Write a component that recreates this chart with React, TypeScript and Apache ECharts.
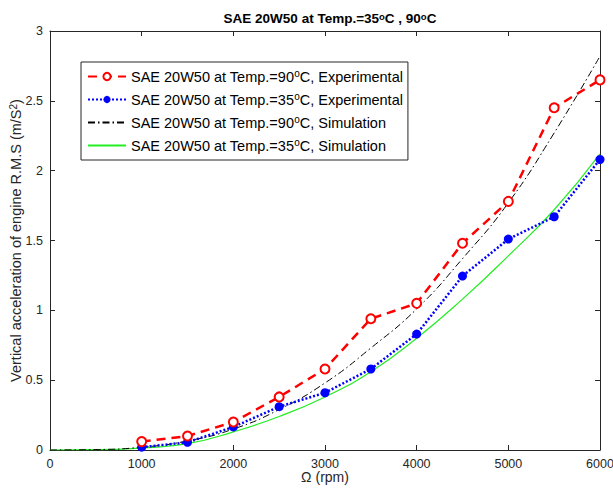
import React, { useEffect, useRef } from "react";
import * as echarts from "echarts";

const expRpm = [1000, 1500, 2000, 2500, 3000, 3500, 4000, 4500, 5000, 5500, 6000];
const exp90 = [0.06, 0.1, 0.2, 0.38, 0.58, 0.94, 1.05, 1.48, 1.78, 2.45, 2.65];
const exp35 = [0.02, 0.055, 0.165, 0.31, 0.41, 0.58, 0.83, 1.245, 1.51, 1.67, 2.08];
const simRpm = [0, 500, 1000, 1500, 2000, 2500, 3000, 3500, 4000, 4500, 5000, 5500, 6000];
const sim90 = [0, 0.003, 0.02, 0.065, 0.15, 0.29, 0.48, 0.73, 1.01, 1.37, 1.77, 2.27, 2.82];
const sim35 = [0, 0.002, 0.015, 0.045, 0.13, 0.24, 0.38, 0.56, 0.8, 1.08, 1.39, 1.72, 2.12];

const names = [
  "SAE 20W50 at Temp.=90°C, Experimental",
  "SAE 20W50 at Temp.=35°C, Experimental",
  "SAE 20W50 at Temp.=90°C, Simulation",
  "SAE 20W50 at Temp.=35°C, Simulation",
];

const FONT = "'Liberation Sans', Arial, sans-serif";
const TXT = "#262626";

const zip = (xs: number[], ys: number[]) => xs.map((x, i) => [x, ys[i]]);
const sup = (s: string) => s.replace(/°/g, "{sup|o}");

export default function App() {
  const ref = useRef<HTMLDivElement>(null);
  useEffect(() => {
    if (!ref.current) return;
    const chart = echarts.init(ref.current, undefined, { renderer: "svg" });
    const axisCommon = {
      axisLine: { show: true, onZero: false, lineStyle: { color: TXT, width: 1 } },
      axisTick: { show: true, inside: true, length: 5, lineStyle: { color: TXT } },
      splitLine: { show: false },
    };
    chart.setOption({
      animation: false,
      backgroundColor: "#fff",
      title: {
        text: sup("SAE 20W50 at Temp.=35°C , 90°C"),
        left: 325,
        textAlign: "center",
        top: 6,
        textStyle: {
          fontFamily: FONT,
          fontSize: 13.5,
          fontWeight: "bold",
          color: "#000",
          rich: {
            sup: { fontSize: 9.5, fontWeight: "bold", verticalAlign: "top", fontFamily: FONT, color: "#000" },
          },
        },
      },
      grid: { left: 50, right: 13, top: 31, bottom: 44, containLabel: false, outerBoundsMode: "none" },
      legend: {
        orient: "vertical",
        left: 81,
        top: 62,
        padding: [6, 5, 6, 6],
        itemWidth: 38,
        itemHeight: 9,
        itemGap: 6,
        itemTextGap: 8,
        backgroundColor: "#fff",
        borderColor: TXT,
        borderWidth: 1,
        borderRadius: 0,
        data: [
          { name: names[0] },
          { name: names[1] },
          { name: names[2], itemStyle: { opacity: 0 } },
          { name: names[3], itemStyle: { opacity: 0 } },
        ],
        formatter: (n: string) => sup(n),
        textStyle: {
          fontFamily: FONT,
          fontSize: 14.5,
          lineHeight: 17,
          color: "#000",
          rich: {
            sup: { fontSize: 10, verticalAlign: "top", fontFamily: FONT, color: "#000" },
          },
        },
      },
      xAxis: [
        {
          type: "value",
          min: 0,
          max: 6000,
          interval: 1000,
          position: "bottom",
          ...axisCommon,
          axisLabel: { fontFamily: FONT, fontSize: 12.5, color: TXT, margin: 7, formatter: (v: number) => String(v) },
          name: "Ω (rpm)",
          nameLocation: "middle",
          nameGap: 20,
          nameMoveOverlap: false,
          nameTextStyle: { fontFamily: FONT, fontSize: 14, color: TXT },
        },
        {
          type: "value",
          min: 0,
          max: 6000,
          interval: 1000,
          position: "top",
          ...axisCommon,
          axisLabel: { show: false },
        },
      ],
      yAxis: [
        {
          type: "value",
          min: 0,
          max: 3,
          interval: 0.5,
          position: "left",
          ...axisCommon,
          axisLabel: { fontFamily: FONT, fontSize: 12.5, color: TXT, margin: 7, formatter: (v: number) => String(v) },
          name: "Vertical acceleration of engine R.M.S (m/S{sup|2})",
          nameLocation: "middle",
          nameGap: 27,
          nameMoveOverlap: false,
          nameTextStyle: {
            fontFamily: FONT,
            fontSize: 14.5,
            color: TXT,
            rich: { sup: { fontSize: 10, verticalAlign: "top", fontFamily: FONT, color: TXT } },
          },
        },
        {
          type: "value",
          min: 0,
          max: 3,
          interval: 0.5,
          position: "right",
          ...axisCommon,
          axisLabel: { show: false },
        },
      ],
      series: [
        {
          name: names[3],
          type: "line",
          data: zip(simRpm, sim35),
          smooth: true,
          symbol: "none",
          lineStyle: { color: "#22ee22", width: 1.2 },
          itemStyle: { color: "#22ee22" },
          z: 2,
        },
        {
          name: names[2],
          type: "line",
          data: zip(simRpm, sim90),
          smooth: true,
          symbol: "none",
          lineStyle: { color: "#000", width: 1, type: [7, 3, 1.5, 3] },
          itemStyle: { color: "#000" },
          z: 3,
        },
        {
          name: names[1],
          type: "line",
          data: zip(expRpm, exp35),
          symbol: "circle",
          symbolSize: 9,
          lineStyle: { color: "#0000ff", width: 2.5, type: [2, 2] },
          itemStyle: { color: "#0000ff" },
          z: 4,
        },
        {
          name: names[0],
          type: "line",
          data: zip(expRpm, exp90),
          symbol: "emptyCircle",
          symbolSize: 9,
          lineStyle: { color: "#ff0000", width: 2.5, type: [9, 6] },
          itemStyle: { color: "#ff0000", borderWidth: 2.5, borderColor: "#ff0000" },
          z: 5,
        },
      ],
    });
    return () => chart.dispose();
  }, []);
  return <div ref={ref} style={{ width: 613, height: 494, position: "absolute", left: 0, top: 0 }} />;
}
